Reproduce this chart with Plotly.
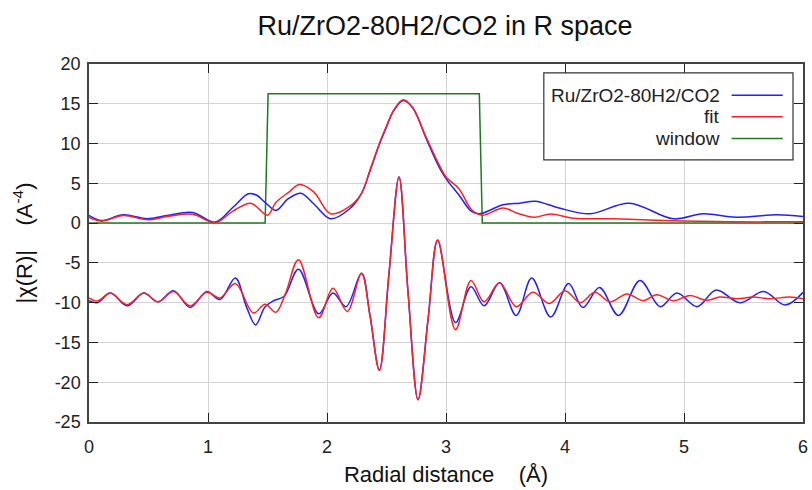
import plotly.graph_objects as go

# |chi(R)| magnitude of the measured data
r_data_mag = [0.0, 0.1, 0.29, 0.49, 0.67, 0.87, 1.06, 1.21, 1.34, 1.41, 1.48, 1.57, 1.67, 1.78,
              1.89, 2.03, 2.19, 2.29, 2.36, 2.44, 2.5, 2.56, 2.64, 2.72, 2.83, 2.94, 3.0, 3.11,
              3.22, 3.29, 3.48, 3.62, 3.75, 3.95, 4.21, 4.54, 4.91, 5.16, 5.44, 5.78, 6.0]
data_mag = [0.96, 0.33, 1.04, 0.54, 1.0, 1.33, 0.13, 2.0, 3.7, 3.5, 2.6, 1.6, 3.0, 3.75,
            2.4, 0.54, 1.8, 3.75, 6.5, 9.9, 12.1, 14.1, 15.4, 14.5, 10.75, 7.1, 5.6, 3.5,
            1.4, 1.2, 2.3, 2.5, 2.75, 1.9, 1.17, 2.5, 0.54, 1.17, 0.75, 1.04, 0.83]

# |chi(R)| magnitude of the fit
r_fit_mag = [0.0, 0.1, 0.29, 0.49, 0.67, 0.87, 1.06, 1.21, 1.36, 1.5, 1.57, 1.68, 1.77, 1.89,
             2.03, 2.19, 2.29, 2.36, 2.44, 2.5, 2.56, 2.64, 2.72, 2.83, 2.94, 3.0, 3.11, 3.22,
             3.31, 3.48, 3.6, 3.74, 3.88, 4.07, 4.41, 4.83, 5.39, 6.0]
fit_mag = [0.75, 0.25, 0.96, 0.42, 0.86, 1.1, 0.04, 1.5, 2.5, 1.0, 2.6, 3.9, 4.85, 3.9,
           1.17, 2.1, 3.75, 6.6, 10.0, 12.2, 14.2, 15.5, 14.5, 10.9, 7.4, 5.8, 4.3, 1.6,
           1.0, 1.9, 1.25, 0.75, 1.15, 0.62, 0.54, 0.33, 0.17, 0.17]

# Fourier-transform window
r_window = [0.0, 1.48, 1.505, 3.28, 3.305, 6.0]
window = [0.0, 0.0, 16.25, 16.25, 0.0, 0.0]

# Re[chi(R)] of the data, drawn offset below the magnitude
r_data_re = [0.0, 0.07, 0.18, 0.32, 0.46, 0.58, 0.71, 0.85, 0.99, 1.1, 1.23, 1.32, 1.4, 1.48,
             1.56, 1.64, 1.76, 1.93, 2.05, 2.16, 2.29, 2.36, 2.44, 2.52, 2.605, 2.68, 2.765,
             2.85, 2.93, 3.08, 3.21, 3.32, 3.45, 3.59, 3.72, 3.88, 4.03, 4.15, 4.29, 4.45,
             4.63, 4.8, 4.94, 5.11, 5.27, 5.47, 5.67, 5.85, 6.0]
data_re = [-9.75, -10.0, -8.8, -10.4, -8.8, -9.9, -8.5, -10.6, -8.6, -9.6, -6.9, -10.4, -12.8,
           -10.5, -9.7, -9.2, -5.8, -11.4, -8.8, -10.5, -6.3, -11.5, -18.5, -6.5, 5.8, -8.5,
           -22.2, -12.0, -2.2, -12.5, -8.0, -10.4, -7.5, -11.6, -6.9, -11.8, -7.6, -10.6,
           -8.1, -11.6, -7.2, -10.5, -8.8, -10.5, -8.4, -10.0, -8.6, -10.3, -8.7]

# Re[chi(R)] of the fit
r_fit_re = [0.0, 0.07, 0.18, 0.32, 0.46, 0.58, 0.71, 0.85, 0.99, 1.1, 1.23, 1.38, 1.48, 1.57,
            1.65, 1.76, 1.93, 2.05, 2.17, 2.29, 2.36, 2.44, 2.52, 2.605, 2.68, 2.765, 2.85,
            2.93, 3.08, 3.21, 3.32, 3.45, 3.59, 3.73, 3.87, 4.0, 4.13, 4.25, 4.38, 4.52, 4.66,
            4.77, 4.91, 5.05, 5.19, 5.3, 5.44, 5.58, 5.72, 5.89, 6.0]
fit_re = [-9.4, -9.8, -8.8, -10.25, -8.8, -9.9, -8.6, -10.4, -8.7, -9.4, -7.6, -11.3, -10.2,
          -11.2, -8.9, -4.6, -11.9, -8.2, -11.1, -6.3, -11.5, -18.5, -6.5, 5.8, -8.5, -22.2,
          -12.0, -2.1, -13.4, -7.2, -9.9, -7.5, -10.5, -8.7, -10.1, -8.5, -10.0, -8.7, -9.9,
          -8.9, -9.75, -9.0, -9.75, -9.1, -9.7, -9.3, -9.5, -9.3, -9.5, -9.3, -9.5]

series_names = ["Ru/ZrO2-80H2/CO2", "fit", "window"]
series_colors = ["#2020ff", "#ff2020", "#1f7a1f"]

x_ticks = [0, 1, 2, 3, 4, 5, 6]
y_ticks = [20, 15, 10, 5, 0, -5, -10, -15, -20, -25]

FONT = "Liberation Sans, Arial, sans-serif"

fig = go.Figure()
line_kw = dict(mode="lines", showlegend=False, hoverinfo="skip")

fig.add_trace(go.Scatter(x=r_window, y=window, line=dict(color=series_colors[2], width=1.5),
                         **line_kw))
fig.add_trace(go.Scatter(x=r_data_mag, y=data_mag, line=dict(color=series_colors[0], width=1.5,
                         shape="spline", smoothing=1.0), **line_kw))
fig.add_trace(go.Scatter(x=r_fit_mag, y=fit_mag, line=dict(color=series_colors[1], width=1.5,
                         shape="spline", smoothing=1.0), **line_kw))
fig.add_trace(go.Scatter(x=r_data_re, y=data_re, line=dict(color=series_colors[0], width=1.5,
                         shape="spline", smoothing=1.0), **line_kw))
fig.add_trace(go.Scatter(x=r_fit_re, y=fit_re, line=dict(color=series_colors[1], width=1.5,
                         shape="spline", smoothing=1.0), **line_kw))

# Legend box in the upper right, text right-aligned with its line sample after it
shapes = [dict(type="rect", xref="paper", yref="paper", x0=0.637, x1=0.986, y0=0.732, y1=0.975,
               line=dict(color="#333333", width=1.2), fillcolor="white", layer="above")]
annotations = []
row_y = [0.913, 0.853, 0.792]
for name, color, yy in zip(series_names, series_colors, row_y):
    annotations.append(dict(xref="paper", yref="paper", x=0.886, y=yy, text=name,
                            showarrow=False, xanchor="right", yanchor="middle",
                            font=dict(family=FONT, size=19, color="#222222")))
    shapes.append(dict(type="line", xref="paper", yref="paper", x0=0.900, x1=0.9716,
                       y0=yy, y1=yy, line=dict(color=color, width=1.5), layer="above"))

axis_common = dict(showline=True, linecolor="#444444", linewidth=1.5, mirror="ticks",
                   ticks="inside", ticklen=9, tickwidth=1.2, tickcolor="#222222",
                   showgrid=True, gridcolor="#d3d3d3", gridwidth=1.3, zeroline=False,
                   automargin=False,
                   tickfont=dict(family=FONT, size=18, color="#222222"))

fig.update_layout(
    width=812, height=490,
    margin=dict(l=89, r=9, t=64, b=68),
    paper_bgcolor="white", plot_bgcolor="white",
    title=dict(text="Ru/ZrO2-80H2/CO2 in R space", x=0.548, xanchor="center",
               y=0.948, yanchor="middle", automargin=False,
               font=dict(family=FONT, size=27, color="#111111")),
    xaxis=dict(range=[0, 6], tickvals=x_ticks, ticktext=[str(v) for v in x_ticks],
               ticklabelstandoff=8,
               title=dict(text="Radial distance\u00a0\u00a0\u00a0\u00a0(Å)", standoff=10,
                          font=dict(family=FONT, size=22, color="#111111")),
               **axis_common),
    yaxis=dict(range=[-25, 20], tickvals=y_ticks, ticktext=[str(v) for v in y_ticks],
               ticklabelstandoff=3,
               title=dict(text="|χ(R)|\u00a0\u00a0\u00a0\u00a0(A<sup>-4</sup>)", standoff=16,
                          font=dict(family=FONT, size=22, color="#111111")),
               **axis_common),
    shapes=shapes,
    annotations=annotations,
)

fig.write_html("out.html")
